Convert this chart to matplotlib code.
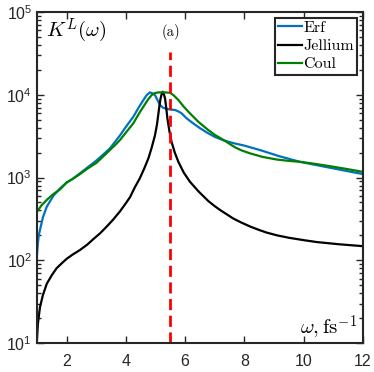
import matplotlib
matplotlib.use('Agg')
import matplotlib.pyplot as plt
from matplotlib.ticker import LogLocator, NullFormatter

# ---- data ----
erf_x = [1.00, 1.03, 1.06, 1.10, 1.20, 1.33, 1.55, 1.78, 2.00, 2.20, 2.45, 2.70,
         3.00, 3.20, 3.46, 3.65, 3.80, 4.00, 4.25, 4.45, 4.59, 4.70, 4.81, 4.90,
         4.98, 5.07, 5.15, 5.25, 5.37, 5.50, 5.66, 5.77, 5.88, 6.05, 6.27, 6.50,
         6.78, 7.00, 7.29, 7.60, 8.00, 8.52, 9.20, 9.87, 10.40, 11.00, 11.50, 12.00]
erf_y = [116, 160, 200, 232, 330, 444, 600, 740, 870, 960, 1125, 1320,
         1600, 1850, 2250, 2750, 3230, 4100, 5430, 7200, 8650, 9900, 10700, 10400,
         9930, 8600, 7520, 7000, 6760, 6650, 6550, 6300, 5970, 5190, 4520, 3950,
         3420, 3100, 2820, 2620, 2430, 2150, 1800, 1550, 1420, 1290, 1190, 1100]

coul_x = [1.00, 1.15, 1.33, 1.55, 1.78, 2.00, 2.20, 2.45, 2.70, 3.00, 3.20, 3.46,
          3.65, 3.80, 4.00, 4.25, 4.45, 4.59, 4.75, 4.87, 4.98, 5.10, 5.30, 5.49,
          5.62, 5.77, 5.95, 6.16, 6.45, 6.78, 7.00, 7.29, 7.50, 7.70, 7.90, 8.19,
          8.60, 9.09, 9.50, 9.87, 10.40, 11.00, 11.50, 12.00]
coul_y = [386, 460, 537, 630, 720, 870, 960, 1100, 1280, 1500, 1750, 2150,
          2500, 2840, 3500, 4520, 6000, 7180, 8800, 9930, 10500, 10700, 10700, 10600,
          9800, 8650, 7200, 5970, 4700, 3750, 3280, 2850, 2550, 2300, 2130, 1960,
          1780, 1650, 1590, 1550, 1460, 1350, 1260, 1170]

jel_x = [1.00, 1.03, 1.10, 1.20, 1.33, 1.50, 1.66, 1.85, 2.00, 2.20, 2.45, 2.70,
         2.90, 3.13, 3.35, 3.57, 3.80, 4.00, 4.14, 4.30, 4.47, 4.62, 4.76, 4.87,
         4.98, 5.05, 5.09, 5.13, 5.17, 5.21, 5.24, 5.27, 5.32, 5.36, 5.40, 5.47,
         5.54, 5.65, 5.77, 5.95, 6.16, 6.45, 6.78, 7.00, 7.20, 7.40, 7.62, 7.90,
         8.20, 8.50, 8.75, 9.10, 9.50, 10.00, 10.44, 11.20, 12.00]
jel_y = [11, 17, 27, 38, 52, 66, 80, 93, 104, 117, 133, 155,
         180, 212, 255, 310, 390, 490, 580, 760, 980, 1290, 1710, 2300,
         3230, 4400, 5690, 7300, 9050, 10300, 10900, 10500, 9050, 7000, 5190, 3600,
         2700, 2000, 1550, 1150, 890, 680, 520, 450, 400, 360, 320, 285,
         255, 232, 216, 200, 187, 175, 166, 156, 148]

omega_res = 5.5
res_top = 3.3e4

x_ticks = [2, 4, 6, 8, 10, 12]
labels = ['Erf', 'Jellium', 'Coul']

# ---- plot ----
plt.rcParams['font.family'] = ['Liberation Sans', 'DejaVu Sans']
fig = plt.figure(figsize=(3.74, 3.72), dpi=100)
ax = fig.add_axes([0.0989, 0.078, 0.8717, 0.8895])

ax.plot(erf_x, erf_y, color='#0072BD', lw=1.6, label=labels[0])
ax.plot(jel_x, jel_y, color='black', lw=1.6, label=labels[1])
ax.plot(coul_x, coul_y, color='#008000', lw=1.6, label=labels[2])
ax.vlines(omega_res, 10, res_top, colors='#FF0000', linestyles=(0, (4, 2)), lw=2.0)

ax.set_yscale('log')
ax.set_xlim(1, 12)
ax.set_ylim(10, 1e5)
ax.set_xticks(x_ticks)
ax.yaxis.set_minor_locator(LogLocator(base=10, subs=range(2, 10), numticks=20))
ax.yaxis.set_minor_formatter(NullFormatter())

ax.tick_params(which='both', direction='in', top=True, right=True,
               color='#262626', width=1.0, labelsize=11.5, labelcolor='#262626')
ax.tick_params(which='major', length=5)
ax.tick_params(which='minor', length=3)
ax.tick_params(axis='x', pad=8)
for s in ax.spines.values():
    s.set_linewidth(1.5)
    s.set_color('#262626')

leg = ax.legend(loc='upper right', prop={'family': 'cmr10', 'size': 11.5},
                fancybox=False, framealpha=1, edgecolor='#262626',
                handlelength=1.5, handletextpad=0.1, borderpad=0.2,
                labelspacing=0.25, borderaxespad=0.35)
leg.get_frame().set_linewidth(1.5)

ax.text(0.028, 0.9435, r'$K^L(\omega)$', transform=ax.transAxes, fontsize=15,
        math_fontfamily='cm', va='center', ha='left')
ax.text(0.411, 0.940, '(a)', transform=ax.transAxes, fontsize=10.5,
        family='cmr10', va='center', ha='center')
ax.text(0.982, 0.024, r'$\omega,\mathrm{fs}^{-1}$', transform=ax.transAxes,
        fontsize=15, math_fontfamily='cm', va='baseline', ha='right')

fig.savefig('out.png', dpi=100)
